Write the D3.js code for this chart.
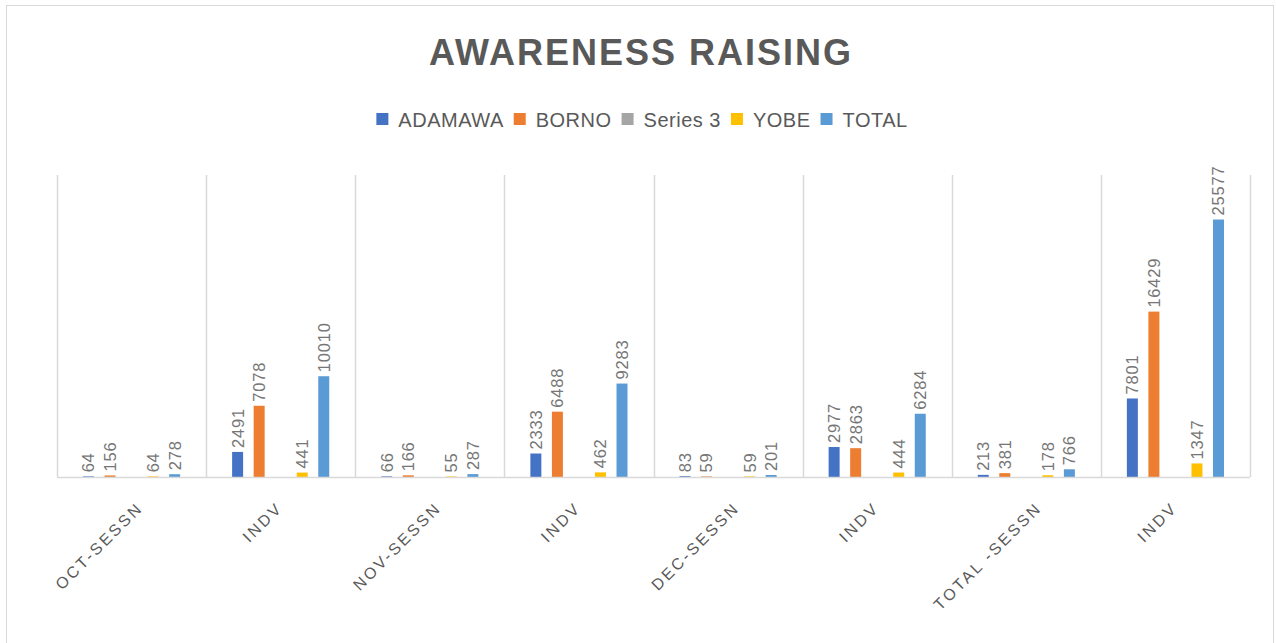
<!DOCTYPE html>
<html>
<head>
<meta charset="utf-8">
<script src="https://cdn.jsdelivr.net/npm/d3@7"></script>
<style>
	html, body { margin: 0; padding: 0; background: #fff; }
	svg { display: block; font-family: "Liberation Sans", Arial, sans-serif; }
</style>
</head>
<body>
<svg id="chart" width="1276" height="643"></svg>
<script>
'use strict';

var categories = ['OCT-SESSN', 'INDV', 'NOV-SESSN', 'INDV', 'DEC-SESSN', 'INDV', 'TOTAL -SESSN', 'INDV'];
var seriesNames = ['ADAMAWA', 'BORNO', 'Series 3', 'YOBE', 'TOTAL'];
var seriesColors = ['#4472c4', '#ed7d31', '#a5a5a5', '#ffc000', '#5b9bd5'];

var adamawa = [64, 2491, 66, 2333, 83, 2977, 213, 7801];
var borno   = [156, 7078, 166, 6488, 59, 2863, 381, 16429];
var series3 = [null, null, null, null, null, null, null, null];
var yobe    = [64, 441, 55, 462, 59, 444, 178, 1347];
var total   = [278, 10010, 287, 9283, 201, 6284, 766, 25577];

var seriesValues = [adamawa, borno, series3, yobe, total];

var svg = d3.select('#chart');

var margin = { top: 175, left: 57, right: 26, bottom: 166 };
var width  = 1276 - margin.left - margin.right;
var height = 643 - margin.top - margin.bottom;

// chart frame
svg.append('rect')
	.attr('x', 6.5).attr('y', 5.5)
	.attr('width', 1267).attr('height', 660)
	.attr('fill', 'none')
	.attr('stroke', '#d9d9d9');

svg.append('text')
	.attr('x', 641).attr('y', 65)
	.attr('text-anchor', 'middle')
	.attr('fill', '#595959')
	.style('font-size', '36px')
	.style('font-weight', 'bold')
	.style('letter-spacing', '2px')
	.text('AWARENESS RAISING');

// legend
var legend = svg.append('g').attr('class', 'legend');
var lx = 0;
seriesNames.forEach(function (name, i) {
	var item = legend.append('g').attr('transform', 'translate(' + lx + ',0)');
	item.append('rect')
		.attr('x', 0).attr('y', -14)
		.attr('width', 12).attr('height', 12)
		.attr('fill', seriesColors[i]);
	var t = item.append('text')
		.attr('x', 22).attr('y', 0)
		.attr('fill', '#595959')
		.style('font-size', '20px')
		.style('letter-spacing', '0.5px')
		.text(name);
	lx += 22 + t.node().getComputedTextLength() + 10;
});
lx -= 10;
legend.attr('transform', 'translate(' + (642 - lx / 2) + ',127)');

var g = svg.append('g')
	.attr('transform', 'translate(' + margin.left + ',' + margin.top + ')');

var x0 = d3.scaleBand()
	.domain(d3.range(categories.length))
	.range([0, width]);

var x1 = d3.scaleBand()
	.domain(d3.range(seriesNames.length))
	.range([26, x0.bandwidth() - 26])
	.paddingInner(0.49);

var y = d3.scaleLinear()
	.domain([0, 30000])
	.range([height, 0]);

// vertical separators
g.selectAll('.sep')
	.data(d3.range(categories.length + 1))
	.enter().append('line')
		.attr('class', 'sep')
		.attr('x1', function (d) { return Math.round(d * x0.step()) + 0.5; })
		.attr('x2', function (d) { return Math.round(d * x0.step()) + 0.5; })
		.attr('y1', 0)
		.attr('y2', height)
		.attr('stroke', '#d9d9d9')
		.attr('stroke-width', 1.5);

var groups = g.selectAll('.group')
	.data(categories)
	.enter().append('g')
		.attr('class', 'group')
		.attr('transform', function (d, i) { return 'translate(' + x0(i) + ',0)'; });

var cells = groups.selectAll('.cell')
	.data(function (d, i) {
		return seriesValues.map(function (vals, s) {
			return { s: s, value: vals[i] };
		}).filter(function (d) { return d.value !== null; });
	})
	.enter().append('g')
		.attr('class', 'cell');

cells.append('rect')
	.attr('x', function (d) { return x1(d.s); })
	.attr('width', x1.bandwidth())
	.attr('y', function (d) { return y(d.value); })
	.attr('height', function (d) { return height - y(d.value); })
	.attr('fill', function (d) { return seriesColors[d.s]; });

cells.append('text')
	.attr('transform', function (d) {
		return 'translate(' + (x1(d.s) + x1.bandwidth() / 2) + ',' + (y(d.value) - 4) + ') rotate(-90)';
	})
	.attr('dy', '0.36em')
	.attr('fill', '#767676')
	.style('font-size', '16.5px')
	.style('letter-spacing', '0.8px')
	.text(function (d) { return d.value; });

// baseline
g.append('line')
	.attr('x1', 0).attr('x2', width)
	.attr('y1', height + 0.5).attr('y2', height + 0.5)
	.attr('stroke', '#d9d9d9')
	.attr('stroke-width', 1.5);

// category labels
var cat = g.selectAll('.cat')
	.data(categories)
	.enter().append('text')
		.attr('class', 'cat')
		.attr('text-anchor', 'end')
		.attr('fill', '#595959')
		.style('font-size', '16px')
		.style('letter-spacing', '2.6px')
		.text(function (d) { return d; });

var baseLen = d3.min(cat.nodes(), function (n) { return n.getComputedTextLength(); });

cat.attr('transform', function (d, i) {
	var len = this.getComputedTextLength();
	var cx = x0(i) + x0.bandwidth() / 2 + 0.14 * (len - baseLen) - 5;
	return 'translate(' + cx + ',' + (height + 24) + ') rotate(-45)';
}).attr('dy', '0.7em');
</script>
</body>
</html>
